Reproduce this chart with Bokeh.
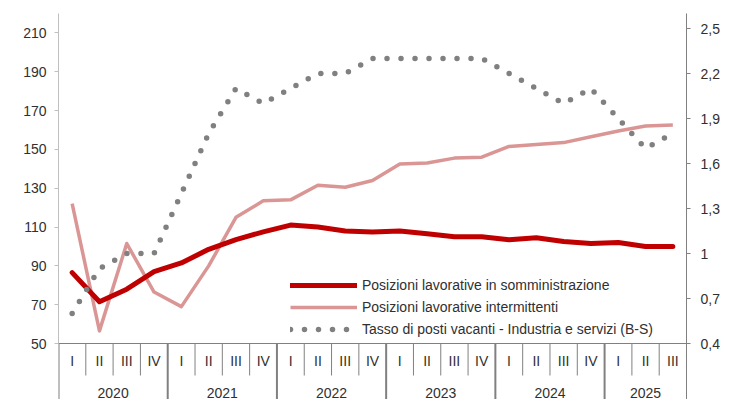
from bokeh.plotting import figure
from bokeh.models import (Range1d, LinearAxis, FixedTicker, CustomJSTickFormatter,
                          Legend, LegendItem, Span, ColumnDataSource)
from bokeh.embed import file_html
from bokeh.resources import INLINE
from bokeh.core.properties import value

# ---------------- data ----------------
years = ["2020", "2021", "2022", "2023", "2024", "2025"]
quarters_per_year = [4, 4, 4, 4, 4, 3]
quarter_names = ["I", "II", "III", "IV"]

somministrazione = [86.5, 71.5, 78, 87, 91.5, 98.5, 103.5, 107.5, 111, 110, 108, 107.5,
                    108, 106.5, 105, 105, 103.5, 104.5, 102.5, 101.5, 102, 100, 100]
intermittenti = [122, 56.5, 101.5, 76.5, 69, 90, 115, 123.5, 124, 131.5, 130.5, 134,
                 142.5, 143, 145.5, 146, 151.5, 152.5, 153.5, 156.5, 159.5, 162, 162.5]
vacanti = [0.6, 0.9, 1.0, 1.0, 1.4, 1.8, 2.1, 2.0, 2.1, 2.2, 2.2, 2.3,
           2.3, 2.3, 2.3, 2.3, 2.2, 2.1, 2.0, 2.1, 1.9, 1.7, 1.8]

left_ticks = [50, 70, 90, 110, 130, 150, 170, 190, 210]
right_ticks = [0.4, 0.7, 1.0, 1.3, 1.6, 1.9, 2.2, 2.5]

labels = ["Posizioni lavorative in somministrazione",
          "Posizioni lavorative intermittenti",
          "Tasso di posti vacanti - Industria e servizi (B-S)"]

# ---------------- layout constants ----------------
W, H = 736, 399
B_LEFT, B_RIGHT, B_TOP = 58, 50, 13
FRAME_H = H - B_TOP
AXIS_PX = 56            # space under the value axis used for the category labels
L_MIN, L_MAX = 50, 220
R_MIN, R_MAX = 0.4, 2.6
ppu_l = (FRAME_H - AXIS_PX) / (L_MAX - L_MIN)
ppu_r = (FRAME_H - AXIS_PX) / (R_MAX - R_MIN)
l_start = L_MIN - AXIS_PX / ppu_l
r_start = R_MIN - AXIS_PX / ppu_r

FONT = "Liberation Sans"
TXT = "#303030"
FS = "14px"

n = len(somministrazione)
xs = [i + 0.5 for i in range(n)]

p = figure(width=W, height=H, output_backend="svg", toolbar_location=None,
           x_range=Range1d(0, n), y_range=Range1d(l_start, L_MAX),
           x_axis_location=None, y_axis_location=None,
           min_border_left=B_LEFT, min_border_right=B_RIGHT,
           min_border_top=B_TOP, min_border_bottom=0)
p.outline_line_color = None
p.xgrid.visible = False
p.ygrid.visible = False
p.background_fill_color = "white"
p.border_fill_color = "white"
p.extra_y_ranges = {"right": Range1d(r_start, R_MAX)}

# left axis
la = LinearAxis(bounds=(L_MIN, L_MAX), ticker=FixedTicker(ticks=left_ticks))
la.axis_line_color = "#BFBFBF"
la.major_tick_line_color = "#BFBFBF"
la.major_tick_out = 4
la.major_tick_in = 0
la.minor_tick_line_color = None
la.major_label_standoff = 8
la.major_label_text_font = FONT
la.major_label_text_font_size = FS
la.major_label_text_color = TXT
p.add_layout(la, "left")

# right axis
ra = LinearAxis(y_range_name="right", ticker=FixedTicker(ticks=right_ticks),
                formatter=CustomJSTickFormatter(
                    code="var s = (Math.round(tick*10)/10).toString(); return s.replace('.', ',');"))
ra.axis_line_color = "#808080"
ra.major_tick_line_color = "#808080"
ra.major_tick_out = 4
ra.major_tick_in = 0
ra.minor_tick_line_color = None
ra.major_label_standoff = 10
ra.major_label_text_font = FONT
ra.major_label_text_font_size = FS
ra.major_label_text_color = TXT
p.add_layout(ra, "right")

# base line of the category axis
p.add_layout(Span(location=L_MIN, dimension="width", line_color="#808080", line_width=1))

# separators and category labels
q_x, q_lab, sep_q, sep_y, y_x, y_lab = [], [], [], [], [], []
k = 0
for yr, nq in zip(years, quarters_per_year):
    sep_y.append(k)
    for q in range(nq):
        q_x.append(k + q + 0.5)
        q_lab.append(quarter_names[q])
        if q > 0:
            sep_q.append(k + q)
    y_x.append(k + nq / 2)
    y_lab.append(yr)
    k += nq

p.segment(x0=sep_q, x1=sep_q, y0=[L_MIN] * len(sep_q), y1=[L_MIN - 32 / ppu_l] * len(sep_q),
          line_color="#808080", line_width=1)
p.segment(x0=sep_y, x1=sep_y, y0=[L_MIN] * len(sep_y), y1=[l_start] * len(sep_y),
          line_color="#808080", line_width=2)
p.text(x=q_x, y=[L_MIN - 17 / ppu_l] * len(q_x), text=q_lab, text_align="center",
       text_baseline="middle", text_font=value(FONT), text_font_size=FS, text_color=TXT)
p.text(x=y_x, y=[L_MIN - 49 / ppu_l] * len(y_x), text=y_lab, text_align="center",
       text_baseline="middle", text_font=value(FONT), text_font_size=FS, text_color=TXT)

# series
src = ColumnDataSource(dict(x=xs, s=somministrazione, i=intermittenti, v=vacanti))
r_pink = p.line("x", "i", source=src, line_color="#DA9694", line_width=3.5, line_join="round")
r_red = p.line("x", "s", source=src, line_color="#C00000", line_width=5, line_join="round",
               line_cap="round")
r_dot = p.line("x", "v", source=src, y_range_name="right", line_color="#808080",
               line_width=5.5, line_dash="0 14", line_cap="round")

legend = Legend(items=[LegendItem(label=labels[0], renderers=[r_red]),
                       LegendItem(label=labels[1], renderers=[r_pink]),
                       LegendItem(label=labels[2], renderers=[r_dot])],
                location=(232, 59), orientation="vertical")
legend.glyph_width = 67
legend.glyph_height = 22
legend.label_height = 22
legend.spacing = 0
legend.padding = 0
legend.margin = 0
legend.label_standoff = 5
legend.border_line_color = None
legend.background_fill_alpha = 0
legend.label_text_font = FONT
legend.label_text_font_size = FS
legend.label_text_color = TXT
p.add_layout(legend, "center")

open("out.html", "w").write(file_html(p, INLINE))
